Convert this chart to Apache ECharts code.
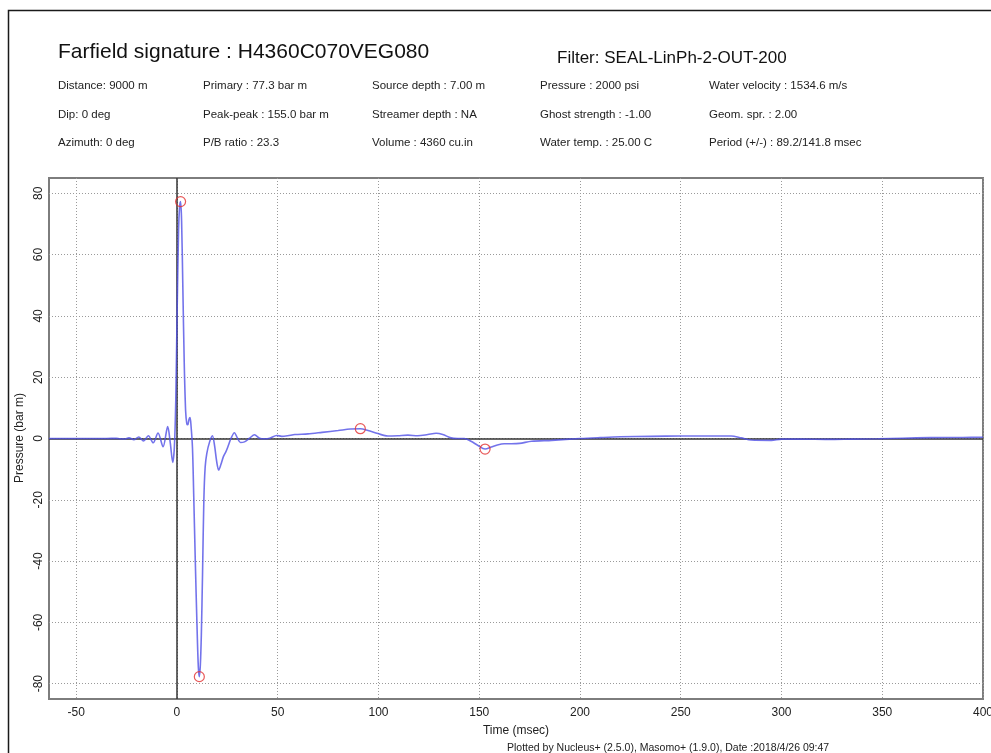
<!DOCTYPE html>
<html>
<head>
<meta charset="utf-8">
<script src="https://cdn.jsdelivr.net/npm/echarts@6/dist/echarts.min.js"></script>
<style>
  html, body { margin: 0; padding: 0; background: #fff; }
  #chart { width: 991px; height: 753px; }
</style>
</head>
<body>
<div id="chart"></div>
<script>
// Far-field source signature: time (ms) vs pressure (bar m)
const timeMs = [
  -63.5, -45, -35, -30, -28.5, -26.2, -23.8, -21.4, -19.0, -16.6, -14.2, -11.8, -9.4, -6.9, -4.6, -3.3, -2.1,
  -1.3, -0.6, 0.1, 0.8, 1.3, 1.8, 2.3, 2.9, 3.6, 4.3, 4.9, 5.4, 6.0, 6.5, 7.0, 7.7,
  8.3, 9.1, 9.9, 10.6, 11.1, 11.6, 12.1, 12.7, 13.35, 14.0, 14.8, 16.2, 17.6,
  18.7, 19.7, 20.7, 21.8, 23.0, 24.3, 25.5, 26.8, 28.5, 30.1, 31.5, 33.5, 36.0, 38.5, 41.0, 43.5, 46.0,
  49.5, 52.0, 55.0, 58.5, 65.0, 72.0, 80.0, 86.0, 91.0, 94.8, 99.7, 104.7, 109.6, 114.6, 119.5, 124.5,
  128.6, 131.9, 136.0, 139.3, 142.6, 145.9, 149.2, 152.9, 156.0, 159.0, 162.4, 166.0, 170.0, 176.0,
  186.0, 200.0, 210.0, 220.0, 235.0, 250.0, 265.0, 275.0, 280.0, 285.0, 295.0, 300.0, 310.0, 323.0,
  335.0, 348.0, 360.0, 374.0, 390.0, 400.0
];
const pressure = [
  0, 0, 0, 0.05, -0.1, -0.15, 0.2, -0.4, 0.5, -0.8, 0.9, -1.4, 1.8, -2.7, 3.9, -1.5, -7.8,
  -3.0, 12.0, 42.0, 68.0, 75.5, 77.3, 71.0, 50.0, 25.0, 9.0, 4.8, 4.5, 6.3, 6.8, 4.0, -3.0,
  -18.0, -40.0, -60.0, -74.5, -77.7, -74.0, -64.0, -44.0, -20.0, -9.3, -4.9, -1.1, 0.9,
  -2.5, -7.5, -10.3, -8.5, -6.0, -4.3, -2.3, 0.0, 1.9, 0.0, -1.3, -1.1, 0.1, 1.2, 0.1, -0.1, 0.1,
  1.0, 0.7, 0.9, 1.3, 1.5, 2.0, 2.6, 3.1, 3.2, 2.6, 1.6, 0.8, 0.9, 1.1, 0.9, 1.3,
  1.7, 1.3, 0.2, 0.0, 0.0, -0.9, -2.2, -3.45, -2.8, -2.1, -1.7, -1.7, -1.6, -0.9,
  -0.6, 0.0, 0.3, 0.55, 0.7, 0.8, 0.8, 0.8, 0.2, -0.5, -0.6, -0.2, -0.2, -0.3,
  -0.2, -0.1, 0.1, 0.3, 0.35, 0.4
];

// Picked extrema: primary peak/trough and first bubble peak/trough
const pickTimes = [1.8, 11.1, 91.0, 152.9];
const pickValues = [77.3, -77.7, 3.2, -3.45];

const xTicks = [-50, 0, 50, 100, 150, 200, 250, 300, 350, 400];
const yTicks = [-80, -60, -40, -20, 0, 20, 40, 60, 80];

const titleText = 'Farfield signature : H4360C070VEG080';
const filterText = 'Filter: SEAL-LinPh-2-OUT-200';
const infoRow1 = ['Distance: 9000 m', 'Primary : 77.3 bar m', 'Source depth : 7.00 m', 'Pressure : 2000 psi', 'Water velocity : 1534.6 m/s'];
const infoRow2 = ['Dip: 0 deg', 'Peak-peak : 155.0 bar m', 'Streamer depth : NA', 'Ghost strength : -1.00', 'Geom. spr. : 2.00'];
const infoRow3 = ['Azimuth: 0 deg', 'P/B ratio : 23.3', 'Volume : 4360 cu.in', 'Water temp. : 25.00 C', 'Period (+/-) : 89.2/141.8 msec'];
const xAxisTitle = 'Time (msec)';
const yAxisTitle = 'Pressure (bar m)';
const footerText = 'Plotted by Nucleus+ (2.5.0), Masomo+ (1.9.0), Date :2018/4/26 09:47';

const FONT = '"Liberation Sans", Arial, sans-serif';
const infoCols = [58, 203, 372, 540, 709];
const infoRowsY = [86, 115, 143];

const graphics = [
  { type: 'rect', z: -1, shape: { x: 8.5, y: 10.5, width: 1100, height: 900 },
    style: { fill: 'none', stroke: '#1a1a1a', lineWidth: 1.5 } },
  { type: 'text', x: 58, y: 52, style: { text: titleText, fontSize: 21, fontFamily: FONT, fill: '#111', verticalAlign: 'middle' } },
  { type: 'text', x: 557, y: 58, style: { text: filterText, fontSize: 17, fontFamily: FONT, fill: '#111', verticalAlign: 'middle' } },
  { type: 'text', x: 516, y: 731, style: { text: xAxisTitle, fontSize: 12, fontFamily: FONT, fill: '#222', align: 'center', verticalAlign: 'middle' } },
  { type: 'text', x: 20, y: 438, rotation: Math.PI / 2, style: { text: yAxisTitle, fontSize: 12, fontFamily: FONT, fill: '#222', align: 'center', verticalAlign: 'middle' } },
  { type: 'text', x: 507, y: 748, style: { text: footerText, fontSize: 10.5, fontFamily: FONT, fill: '#222', verticalAlign: 'middle' } }
];
[infoRow1, infoRow2, infoRow3].forEach((row, r) => {
  row.forEach((txt, c) => {
    graphics.push({ type: 'text', x: infoCols[c], y: infoRowsY[r],
      style: { text: txt, fontSize: 11.5, fontFamily: FONT, fill: '#222', verticalAlign: 'middle' } });
  });
});

const chart = echarts.init(document.getElementById('chart'), null, { renderer: 'canvas' });
chart.setOption({
  animation: false,
  backgroundColor: '#fff',
  graphic: graphics,
  grid: { left: 49, right: 8, top: 178, bottom: 54, outerBoundsMode: 'none', containLabel: false,
    show: true, borderColor: '#7d7d7d', borderWidth: 2, backgroundColor: 'transparent' },
  xAxis: {
    type: 'value', min: -63.5, max: 400,
    axisLine: { show: false },
    axisTick: { show: false, customValues: xTicks },
    axisLabel: { customValues: xTicks, fontSize: 12, fontFamily: FONT, color: '#222', margin: 8 },
    splitLine: { show: true, lineStyle: { color: '#9a9a9a', width: 1, type: [1, 2] } }
  },
  yAxis: {
    type: 'value', min: -85, max: 85,
    axisLine: { show: false },
    axisTick: { show: false, customValues: yTicks },
    axisLabel: { customValues: yTicks, rotate: 90, fontSize: 12, fontFamily: FONT, color: '#222', margin: 4 },
    splitLine: { show: true, lineStyle: { color: '#9a9a9a', width: 1, type: [1, 2] } }
  },
  series: [
    {
      type: 'line',
      data: timeMs.map((t, i) => [t, pressure[i]]),
      showSymbol: false,
      smooth: 0.3,
      lineStyle: { color: 'rgba(80,80,230,0.8)', width: 1.6 },
      z: 3,
      markLine: {
        silent: true, symbol: ['none', 'none'], label: { show: false },
        lineStyle: { color: '#333', width: 1.5, type: 'solid' },
        data: [{ yAxis: 0 }, { xAxis: 0 }],
        z: 2
      }
    },
    {
      type: 'scatter',
      data: pickTimes.map((t, i) => [t, pickValues[i]]),
      symbol: 'circle', symbolSize: 10,
      itemStyle: { color: 'rgba(255,255,255,0)', borderColor: '#e23030', borderWidth: 1.2 },
      z: 4
    }
  ]
});
</script>
</body>
</html>
